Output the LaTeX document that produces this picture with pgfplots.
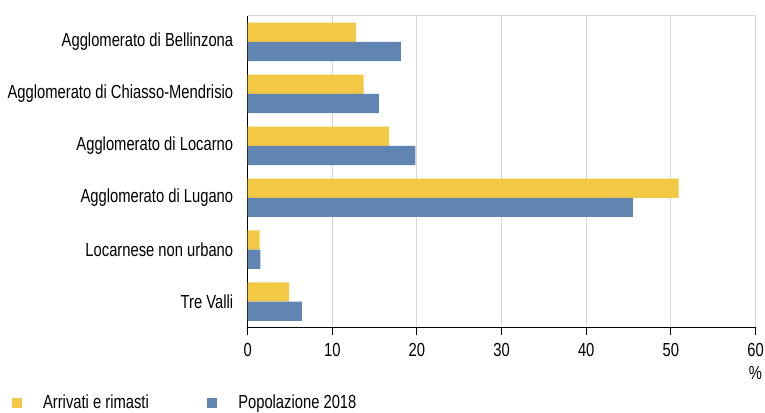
\documentclass[border=0pt]{standalone}
\usepackage{fontspec}
\setmainfont{Liberation Sans}[FakeStretch=0.78]
\usepackage{pgfplots}
\pgfplotsset{compat=1.18}
\definecolor{arrivi}{RGB}{242,200,68}
\definecolor{popol}{RGB}{97,133,178}
\definecolor{gridgray}{RGB}{214,214,214}

\begin{document}
\fontsize{19}{22}\selectfont
\begin{tikzpicture}
\begin{axis}[
  scale only axis,
  width=510pt, height=313pt,
  xmin=0, xmax=60,
  ymin=-0.5, ymax=5.5,
  y dir=reverse,
  axis lines*=left,
  axis line style={-, black, line width=1pt},
  xtick={0,10,...,60},
  xtick pos=bottom,
  xmajorgrids,
  major grid style={gridgray, line width=1pt},
  ytick={0,...,5},
  yticklabels={Agglomerato di Bellinzona, Agglomerato di Chiasso-Mendrisio, Agglomerato di Locarno, Agglomerato di Lugano, Locarnese non urbano, Tre Valli},
  ytick pos=left,
  tick align=outside,
  x tick style={black, line width=1pt},
  major tick length=7pt,
  y tick style={draw=none},
  minor ytick={0.5,1.5,...,4.5},
  minor y tick style={black, line width=1pt},
  minor tick length=8pt,
  extra y ticks={-0.5,5.5},
  extra y tick labels={},
  extra y tick style={y tick style={black, line width=1pt}, major tick length=8pt},
  yticklabel style={xshift=-1pt},
  xticklabel style={yshift=-2pt},
  /pgf/number format/assume math mode=true,
  xlabel={\%},
  xlabel style={at={(rel axis cs:1,0)}, anchor=center, yshift=-46pt},
  bar width=0.37,
  legend columns=2,
  legend style={at={(rel axis cs:-0.464,-0.2428)}, anchor=west, draw=none, fill=none, inner sep=0pt,
    nodes={inner sep=0pt},
    /tikz/every even column/.append style={column sep=0pt},
    /tikz/every odd column/.append style={column sep=0pt}},
  legend image code/.code={\fill[#1] (0pt,-5pt) rectangle (10pt,5pt); \path (31pt,0pt);},
]
% top border of the plot area
\addplot[forget plot, gridgray, line width=1pt, no marks] coordinates {(0,-0.5) (60,-0.5)};
\addplot[xbar, fill=arrivi, draw=none, bar shift=-0.185] coordinates {
  (12.8,0) (13.7,1) (16.7,2) (50.9,3) (1.4,4) (4.9,5)};
\addplot[xbar, fill=popol, draw=none, bar shift=0.185] coordinates {
  (18.1,0) (15.5,1) (19.8,2) (45.5,3) (1.5,4) (6.4,5)};
\legend{\makebox[165pt][l]{Arrivati e rimasti}, \makebox[165pt][l]{Popolazione 2018}}
\end{axis}
% page frame around the plot area
\pgfresetboundingbox
\path (-248.7pt,-85pt) rectangle (519.5pt,329pt);
\end{tikzpicture}
\end{document}
